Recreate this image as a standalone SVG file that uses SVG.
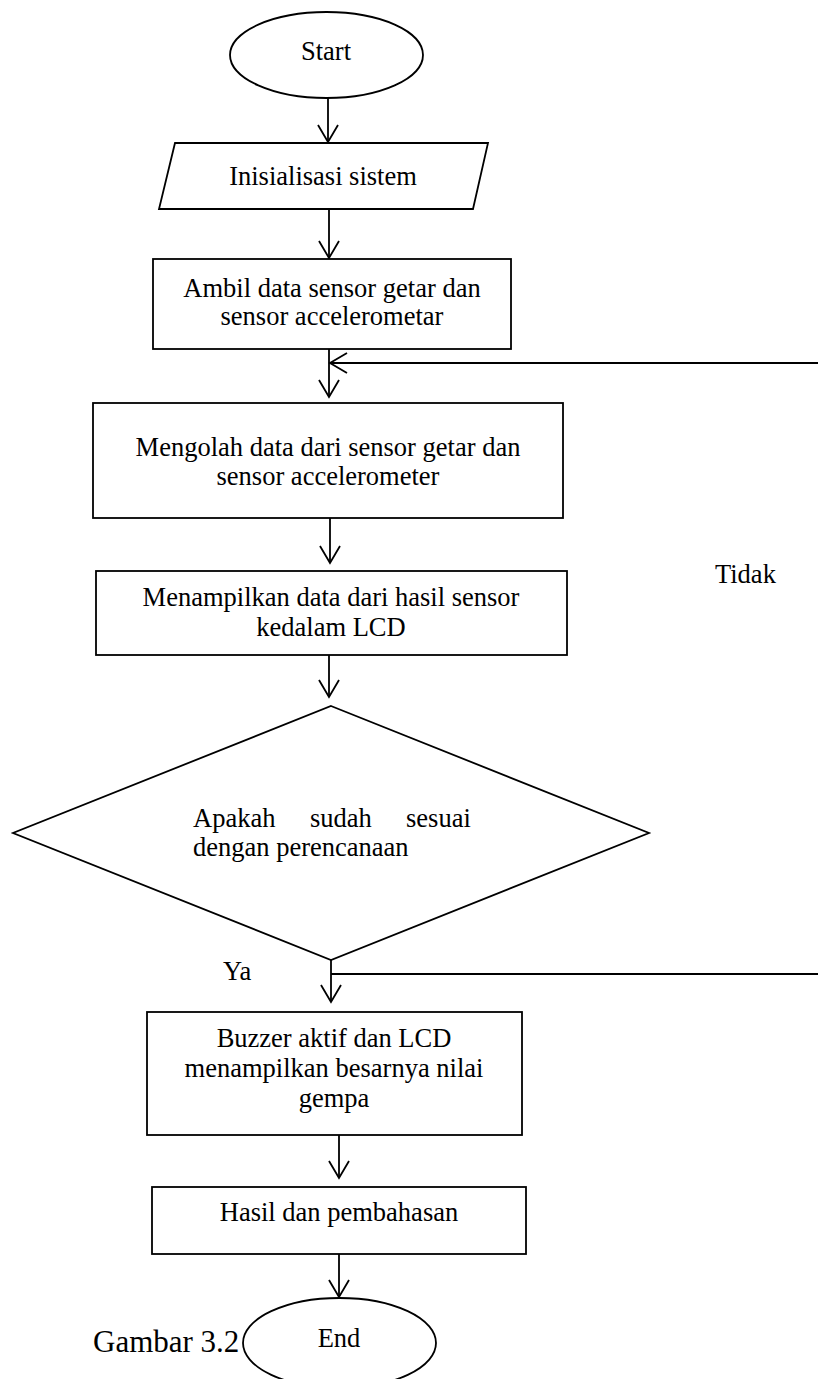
<svg xmlns="http://www.w3.org/2000/svg" width="818" height="1379" viewBox="0 0 818 1379">
<style>
.shape{fill:#fff;stroke:#000;stroke-width:1.8}
.conn{fill:none;stroke:#000;stroke-width:1.8}
text{font-family:"Liberation Serif","Times New Roman",serif;font-size:26.5px;fill:#000}
.c{text-anchor:middle}
</style>
<defs>
<marker id="arr" viewBox="-19 -12 21 24" markerWidth="21" markerHeight="24" refX="0" refY="0" orient="auto" markerUnits="userSpaceOnUse">
<path d="M-17,-10 L0,0 L-17,10" fill="none" stroke="#000" stroke-width="1.8"/>
</marker>
</defs>
<rect width="818" height="1379" fill="#fff"/>
<g id="connectors">
<line class="conn" x1="328" y1="98" x2="328" y2="142" marker-end="url(#arr)"/>
<line class="conn" x1="329" y1="209" x2="329" y2="258" marker-end="url(#arr)"/>
<line class="conn" x1="329" y1="349" x2="329" y2="397" marker-end="url(#arr)"/>
<line class="conn" x1="330" y1="518" x2="330" y2="563" marker-end="url(#arr)"/>
<line class="conn" x1="329" y1="655" x2="329" y2="697" marker-end="url(#arr)"/>
<line class="conn" x1="331" y1="960" x2="331" y2="1002" marker-end="url(#arr)"/>
<line class="conn" x1="339" y1="1135" x2="339" y2="1178" marker-end="url(#arr)"/>
<line class="conn" x1="339" y1="1254" x2="339" y2="1297" marker-end="url(#arr)"/>
<line class="conn" x1="818" y1="363" x2="330" y2="363" marker-end="url(#arr)"/>
<line class="conn" x1="331" y1="974" x2="818" y2="974"/>
<text x="715" y="583">Tidak</text>
<text x="223" y="980">Ya</text>
</g>
<g id="start">
<ellipse class="shape" cx="326.5" cy="55" rx="96.5" ry="43"/>
<text class="c" x="326" y="60">Start</text>
</g>
<g id="init">
<polygon class="shape" points="175,143 488,143 473,209 159,209"/>
<text class="c" x="323" y="185">Inisialisasi sistem</text>
</g>
<g id="ambil">
<rect class="shape" x="153" y="259" width="358" height="90"/>
<text class="c" x="332" y="297">Ambil data sensor getar dan</text>
<text class="c" x="332" y="325">sensor accelerometar</text>
</g>
<g id="mengolah">
<rect class="shape" x="93" y="403" width="470" height="115"/>
<text class="c" x="328" y="456">Mengolah data dari sensor getar dan</text>
<text class="c" x="328" y="485">sensor accelerometer</text>
</g>
<g id="menampilkan">
<rect class="shape" x="96" y="571" width="471" height="84"/>
<text class="c" x="331" y="606">Menampilkan data dari hasil sensor</text>
<text class="c" x="331" y="636">kedalam LCD</text>
</g>
<g id="decision">
<polygon class="shape" points="331,706 649,833 331,960 13,833"/>
<text x="193" y="827">Apakah</text>
<text x="310" y="827">sudah</text>
<text x="406" y="827">sesuai</text>
<text x="193" y="856">dengan perencanaan</text>
</g>
<g id="buzzer">
<rect class="shape" x="147" y="1012" width="375" height="123"/>
<text class="c" x="334" y="1047">Buzzer aktif dan LCD</text>
<text class="c" x="334" y="1077">menampilkan besarnya nilai</text>
<text class="c" x="334" y="1107">gempa</text>
</g>
<g id="hasil">
<rect class="shape" x="152" y="1187" width="374" height="67"/>
<text class="c" x="339" y="1221">Hasil dan pembahasan</text>
</g>
<g id="end">
<ellipse class="shape" cx="339.5" cy="1343" rx="96.5" ry="45"/>
<text class="c" x="339" y="1347">End</text>
</g>
<g id="caption">
<text x="93" y="1352" style="font-size:31px">Gambar 3.2</text>
</g>
</svg>
